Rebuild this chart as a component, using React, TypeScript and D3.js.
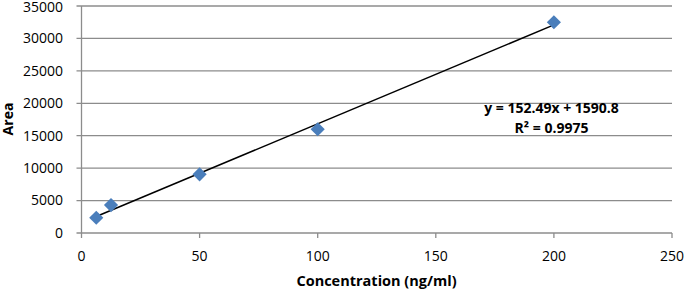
import React from "react";
import * as d3 from "d3";

const concentrations = [6.25, 12.5, 50, 100, 200];
const areas = [2350, 4300, 9050, 16000, 32500];
const xTicks = [0, 50, 100, 150, 200, 250];
const yTicks = [0, 5000, 10000, 15000, 20000, 25000, 30000, 35000];
const slope = 152.49;
const intercept = 1590.8;
const equationText = "y = 152.49x + 1590.8";
const r2Text = "R² = 0.9975";

export default function App() {
  const W = 685, H = 289;
  const x = d3.scaleLinear().domain([0, 250]).range([81.5, 672]);
  const y = d3.scaleLinear().domain([0, 35000]).range([233, 6]);
  const grid = "#8c8c8c";
  const font = "'Open Sans', 'Liberation Sans', sans-serif";
  const x0 = d3.min(concentrations)!, x1 = d3.max(concentrations)!;
  const line = d3.line<number>().x((d) => x(d)).y((d) => y(slope * d + intercept));
  const diamond = d3.symbol(d3.symbolSquare, 100)();
  return (
    <svg width={W} height={H} style={{ position: "absolute", left: 0, top: 0, background: "#fff" }}>
      {yTicks.map((t) => (
        <g key={t}>
          <line x1={x(0) - 5} x2={x(250)} y1={y(t)} y2={y(t)} stroke={grid} strokeWidth={1.3} />
          <text x={63} y={y(t) + (t === 35000 ? 1 : 0)} dy="0.35em" textAnchor="end" fontFamily={font} fontSize={14} fill="#000">{t}</text>
        </g>
      ))}
      <line x1={x(0)} x2={x(0)} y1={y(35000)} y2={y(0)} stroke={grid} strokeWidth={1.3} />
      {xTicks.map((t) => (
        <g key={t}>
          <line x1={x(t)} x2={x(t)} y1={y(0)} y2={y(0) + 5} stroke={grid} strokeWidth={1.3} />
          <text x={x(t)} y={256} dy="0.35em" textAnchor="middle" fontFamily={font} fontSize={14} fill="#000">{t}</text>
        </g>
      ))}
      <path d={line([x0, x1]) || ""} stroke="#000" strokeWidth={1.5} fill="none" />
      {concentrations.map((c, i) => (
        <path key={i} d={diamond || ""} transform={`translate(${x(c)},${y(areas[i])}) rotate(45)`} fill="#4a7ebb" />
      ))}
      <text x={551.5} y={108} dy="0.35em" textAnchor="middle" fontFamily={font} fontSize={14} fontWeight="bold">{equationText}</text>
      <text x={551.5} y={128} dy="0.35em" textAnchor="middle" fontFamily={font} fontSize={14} fontWeight="bold">{r2Text}</text>
      <text x={376.5} y={281} dy="0.35em" textAnchor="middle" fontFamily={font} fontSize={14.5} fontWeight="bold">Concentration (ng/ml)</text>
      <text transform={`translate(8,119) rotate(-90)`} dy="0.35em" textAnchor="middle" fontFamily={font} fontSize={14} fontWeight="bold">Area</text>
    </svg>
  );
}
